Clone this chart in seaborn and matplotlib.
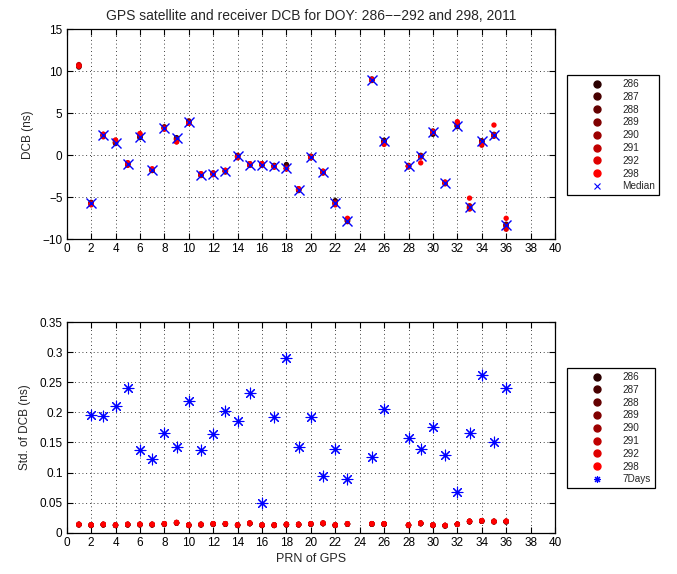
import numpy as np
import pandas as pd
import matplotlib
matplotlib.use("Agg")
import matplotlib.pyplot as plt
import seaborn as sns
from matplotlib.lines import Line2D

# ---------------- data ----------------
prn = [1, 2, 3, 4, 5, 6, 7, 8, 9, 10, 11, 12, 13, 14, 15, 16, 17, 18, 19, 20,
       21, 22, 23, 25, 26, 28, 29, 30, 31, 32, 33, 34, 35, 36]
doy = ["286", "287", "288", "289", "290", "291", "292", "298"]

nan = np.nan
dcb_286 = [10.5, -5.7, 2.3, 1.6, -1.1, 2.1, -1.8, 3.2, 2.1, 3.9, -2.4, -2.2, -1.9, -0.2, -1.1, -1.1, -1.3, -1.1, -4.1, -0.2,
           -2.0, -5.4, -7.8, 9.0, 1.8, -1.3, -0.1, 2.5, -3.3, 3.4, -6.3, 1.7, 2.3, -8.4]
dcb_287 = [10.6, -5.8, 2.4, 1.5, -1.0, 2.2, -1.7, 3.3, 2.0, 4.0, -2.3, -2.1, -1.9, -0.1, -1.0, -1.1, -1.2, -1.3, -4.0, -0.2,
           -2.0, -5.6, -7.7, 9.0, 1.7, -1.2, -0.1, 2.6, -3.3, 3.5, -6.2, 1.6, 2.4, -8.3]
dcb_288 = [10.6, -5.7, 2.4, 1.5, -1.0, 2.3, -1.8, 3.3, 1.9, 4.0, -2.3, -2.2, -1.8, -0.1, -1.1, -1.0, -1.3, -1.5, -4.1, -0.3,
           -1.9, -5.7, -7.8, 8.9, 1.7, -1.3, 0.0, 2.8, -3.2, 3.5, -6.1, 1.7, 2.4, -8.2]
dcb_289 = [10.7, -5.6, 2.5, 1.4, -0.9, 2.2, -1.8, 3.4, 2.0, 4.1, -2.2, -2.2, -1.9, -0.1, -1.1, -1.1, -1.3, -1.6, -4.1, -0.2,
           -2.0, -5.8, -7.8, 9.0, 1.6, -1.3, -0.1, 2.8, -3.3, 3.6, -6.2, 1.7, 2.5, -8.3]
dcb_290 = [10.7, -5.7, 2.3, 1.5, -1.0, 2.3, -1.8, 3.3, 1.9, 3.9, -2.3, -2.3, -2.0, 0.0, -1.2, -1.1, -1.3, -1.6, -4.2, -0.1,
           -2.1, -5.7, -7.9, 9.1, 1.5, -1.4, -0.2, 2.9, -3.3, 3.5, -6.3, 1.5, 2.3, -8.4]
dcb_291 = [10.8, -5.8, 2.4, 1.7, -1.1, 2.4, -1.7, 3.2, 1.8, 3.8, -2.3, -2.2, -1.9, -0.2, -1.1, -1.2, -1.4, -1.5, -4.1, -0.2,
           -2.0, -5.6, -7.6, 9.0, 1.5, -1.3, -0.1, 2.8, -3.4, 3.7, -6.0, 1.4, 2.3, -8.5]
dcb_292 = [10.7, -5.9, 2.2, 1.8, -1.2, 2.5, -1.7, 3.1, 1.6, 3.8, -2.4, -2.1, -1.8, -0.3, -1.2, -1.1, -1.4, -1.6, -4.0, -0.3,
           -2.1, -5.9, -7.6, 9.0, 1.3, -1.3, -0.2, 2.8, -3.3, 3.8, -6.4, 1.2, 2.4, -8.8]
dcb_298 = [10.6, -5.8, 2.5, 1.8, -0.9, 2.6, -1.6, 3.2, 1.6, 3.8, -2.2, -2.3, -1.8, -0.2, -1.0, -1.0, -1.3, -1.6, -4.0, -0.2,
           -1.9, -5.8, -7.5, 9.0, 1.4, -1.3, -0.9, 2.7, -3.2, 4.0, -5.1, 1.4, 3.6, -7.5]
dcb_median = [nan, -5.7, 2.4, 1.5, -1.0, 2.2, -1.8, 3.3, 2.0, 4.0, -2.3, -2.2, -1.9, -0.1, -1.1, -1.1, -1.3, -1.5, -4.1, -0.2,
              -2.0, -5.7, -7.8, 9.0, 1.7, -1.3, -0.1, 2.8, -3.3, 3.5, -6.2, 1.7, 2.4, -8.3]

std_286 = [0.013, 0.012, 0.013, 0.012, 0.013, 0.013, 0.013, 0.014, 0.016, 0.012, 0.013, 0.014, 0.014, 0.012, 0.015, 0.012, 0.012,
           0.013, 0.013, 0.014, 0.015, 0.012, 0.014, 0.014, 0.014, 0.012, 0.015, 0.012, 0.011, 0.014, 0.018, 0.019, 0.018, 0.018]
std_287 = [0.014, 0.013, 0.013, 0.013, 0.013, 0.014, 0.013, 0.014, 0.016, 0.013, 0.013, 0.014, 0.015, 0.013, 0.015, 0.012, 0.013,
           0.013, 0.014, 0.014, 0.015, 0.013, 0.014, 0.015, 0.014, 0.013, 0.015, 0.013, 0.012, 0.014, 0.018, 0.019, 0.019, 0.018]
std_288 = [0.013, 0.013, 0.014, 0.012, 0.014, 0.013, 0.014, 0.015, 0.016, 0.012, 0.014, 0.015, 0.014, 0.013, 0.016, 0.013, 0.012,
           0.014, 0.013, 0.015, 0.016, 0.012, 0.015, 0.014, 0.015, 0.012, 0.016, 0.012, 0.012, 0.014, 0.019, 0.020, 0.018, 0.019]
std_289 = [0.014, 0.012, 0.013, 0.013, 0.013, 0.014, 0.013, 0.014, 0.017, 0.013, 0.013, 0.014, 0.015, 0.012, 0.015, 0.013, 0.013,
           0.013, 0.014, 0.014, 0.015, 0.013, 0.014, 0.015, 0.014, 0.013, 0.015, 0.013, 0.011, 0.014, 0.019, 0.019, 0.019, 0.018]
std_290 = [0.013, 0.013, 0.014, 0.012, 0.014, 0.013, 0.014, 0.015, 0.016, 0.012, 0.014, 0.015, 0.014, 0.013, 0.016, 0.012, 0.012,
           0.014, 0.013, 0.015, 0.016, 0.012, 0.015, 0.014, 0.015, 0.012, 0.016, 0.012, 0.012, 0.014, 0.018, 0.020, 0.018, 0.019]
std_291 = [0.014, 0.012, 0.013, 0.013, 0.013, 0.014, 0.013, 0.014, 0.017, 0.013, 0.013, 0.014, 0.015, 0.012, 0.015, 0.013, 0.013,
           0.013, 0.014, 0.014, 0.015, 0.013, 0.014, 0.015, 0.014, 0.013, 0.015, 0.013, 0.012, 0.014, 0.019, 0.019, 0.019, 0.019]
std_292 = [0.013, 0.013, 0.014, 0.012, 0.014, 0.014, 0.014, 0.015, 0.016, 0.012, 0.014, 0.015, 0.015, 0.013, 0.016, 0.012, 0.012,
           0.014, 0.013, 0.015, 0.016, 0.012, 0.015, 0.015, 0.015, 0.012, 0.016, 0.012, 0.012, 0.014, 0.019, 0.020, 0.018, 0.019]
std_298 = [0.014, 0.013, 0.014, 0.013, 0.014, 0.014, 0.014, 0.015, 0.017, 0.013, 0.014, 0.015, 0.015, 0.013, 0.016, 0.013, 0.013,
           0.014, 0.014, 0.015, 0.016, 0.013, 0.015, 0.015, 0.015, 0.013, 0.016, 0.013, 0.012, 0.014, 0.019, 0.020, 0.019, 0.019]
std_7days = [nan, 0.195, 0.194, 0.210, 0.240, 0.138, 0.122, 0.165, 0.143, 0.219, 0.137, 0.164, 0.202, 0.186, 0.233, 0.050, 0.192,
             0.291, 0.143, 0.192, 0.095, 0.140, 0.089, 0.126, 0.205, 0.157, 0.140, 0.176, 0.129, 0.068, 0.166, 0.263, 0.151, 0.241]

xticks = list(range(0, 41, 2))
yticks_top = [-10, -5, 0, 5, 10, 15]
yticks_bot = [0, 0.05, 0.1, 0.15, 0.2, 0.25, 0.3, 0.35]
yticklabels_bot = ["0", "0.05", "0.1", "0.15", "0.2", "0.25", "0.3", "0.35"]

day_colors = ["#2a0000", "#480000", "#640000", "#800000", "#9c0000", "#c00000", "#e00000", "#ff0000"]

# ---------------- build long tables ----------------
dcb_days = [dcb_286, dcb_287, dcb_288, dcb_289, dcb_290, dcb_291, dcb_292, dcb_298]
std_days = [std_286, std_287, std_288, std_289, std_290, std_291, std_292, std_298]
df_dcb = pd.concat([pd.DataFrame({"PRN": prn, "val": v, "DOY": d}) for d, v in zip(doy, dcb_days)], ignore_index=True)
df_std = pd.concat([pd.DataFrame({"PRN": prn, "val": v, "DOY": d}) for d, v in zip(doy, std_days)], ignore_index=True)

# ---------------- style ----------------
sns.set_theme(style="ticks")
plt.rcParams["font.family"] = ["Liberation Sans", "DejaVu Sans"]
plt.rcParams["axes.unicode_minus"] = True

fig = plt.figure(figsize=(6.77, 5.74), dpi=100)
ax1 = fig.add_axes([0.0985, 0.5831, 0.7213, 0.3659])
ax2 = fig.add_axes([0.0985, 0.0720, 0.7213, 0.3666])

palette = dict(zip(doy, day_colors))

sns.scatterplot(data=df_dcb, x="PRN", y="val", hue="DOY", hue_order=doy, palette=palette,
                s=15, linewidth=0, legend=False, ax=ax1, zorder=3)
sns.scatterplot(x=prn, y=dcb_median, marker="x", color="blue", s=52, linewidth=1.0,
                legend=False, ax=ax1, zorder=4)

sns.scatterplot(data=df_std, x="PRN", y="val", hue="DOY", hue_order=doy, palette=palette,
                s=15, linewidth=0, legend=False, ax=ax2, zorder=3)
sns.scatterplot(x=prn, y=std_7days, marker=(8, 2, 0), color="blue", s=60, linewidth=0.8,
                edgecolor="blue", legend=False, ax=ax2, zorder=4)

for ax in (ax1, ax2):
    ax.set_xlim(0, 40)
    ax.set_xticks(xticks)
    ax.grid(True, color="black", linestyle=(0, (1, 3.5)), linewidth=0.6)
    ax.tick_params(direction="in", top=True, right=True, length=4, width=0.8,
                   labelsize=8.5, colors="black", pad=3)
    for sp in ax.spines.values():
        sp.set_color("black")
        sp.set_linewidth(0.9)
        sp.set_visible(True)
    ax.set_axisbelow(True)

ax1.set_ylim(-10, 15)
ax1.set_yticks(yticks_top)
ax1.set_xlabel("")
ax1.set_ylabel("DCB (ns)", fontsize=8.5, labelpad=6)
ax1.set_title("GPS satellite and receiver DCB for DOY: 286\u2212\u2212292 and 298, 2011", fontsize=10, pad=7)

ax2.set_ylim(0, 0.35)
ax2.set_yticks(yticks_bot)
ax2.set_yticklabels(yticklabels_bot)
ax2.set_xlabel("PRN of GPS", fontsize=9, labelpad=3)
ax2.set_ylabel("Std. of DCB (ns)", fontsize=8.5, labelpad=6)

# ---------------- legends ----------------
def make_handles(last_label, last_marker):
    hs = [Line2D([], [], ls="", marker="o", markersize=5, markerfacecolor=c, markeredgecolor=c, label=d)
          for d, c in zip(doy, day_colors)]
    hs.append(Line2D([], [], ls="", marker=last_marker, markersize=5, color="blue",
                     markeredgewidth=0.8, label=last_label))
    return hs

for ax, lab, mk, ytop in ((ax1, "Median", "x", 75), (ax2, "7Days", (8, 2, 0), 368)):
    leg = ax.legend(handles=make_handles(lab, mk), loc="upper left",
                    bbox_to_anchor=(567 / 677, 1 - ytop / 574), bbox_transform=fig.transFigure,
                    fontsize=7.2, frameon=True, fancybox=False, framealpha=1, edgecolor="black",
                    borderpad=0.4, labelspacing=0.28, handlelength=5.1, handletextpad=0.05,
                    borderaxespad=0)
    leg.get_frame().set_linewidth(0.9)
    leg.set_zorder(10)

fig.savefig("out.png", dpi=100)
